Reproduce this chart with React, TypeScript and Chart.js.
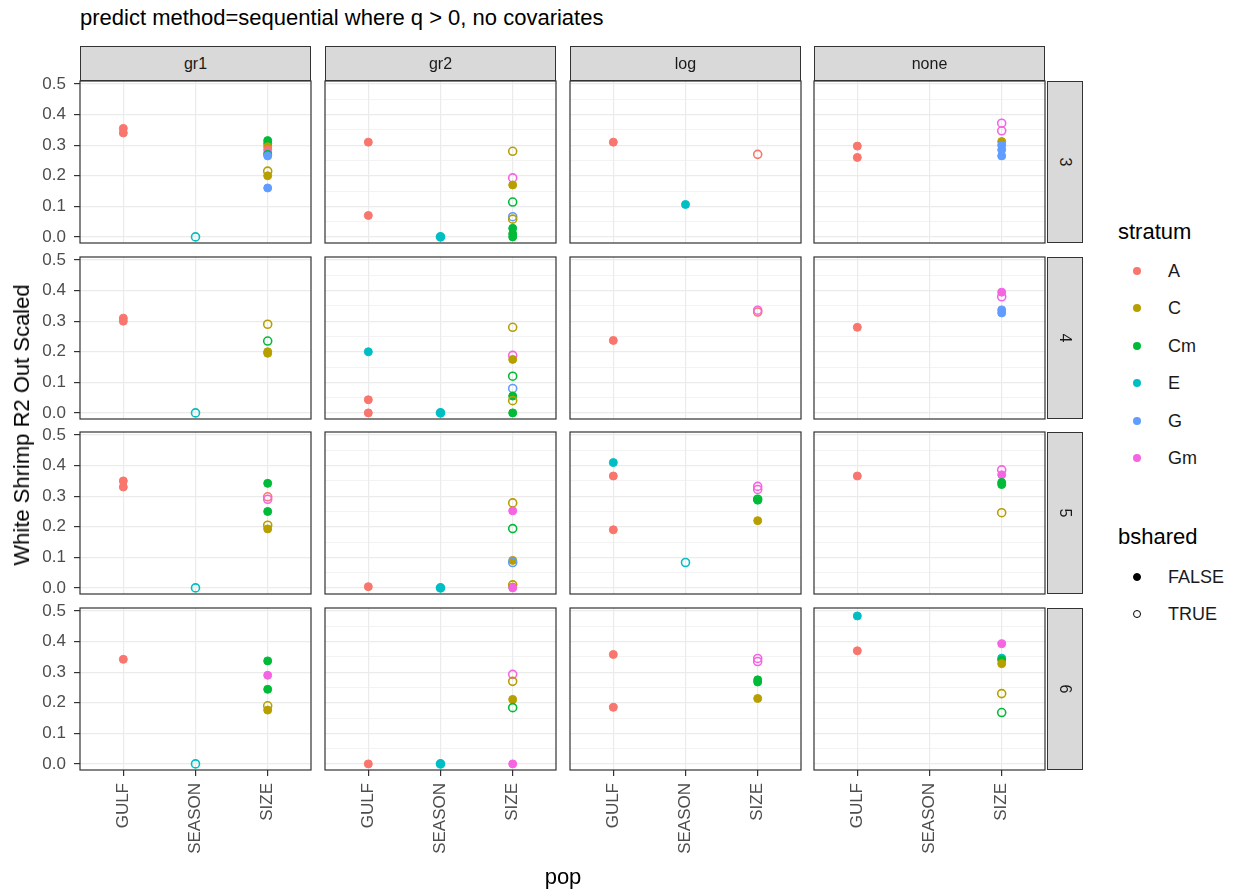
import React, { useEffect, useRef } from 'react';
import { Chart, registerables } from 'chart.js';

Chart.register(...registerables);

// ---------- data ----------
const methods = ['gr1', 'gr2', 'log', 'none'];
const rowLabels = ['3', '4', '5', '6'];
const pops = ['GULF', 'SEASON', 'SIZE'];
const strata = ['A', 'C', 'Cm', 'E', 'G', 'Gm'];
const strataColors = ['#F8766D', '#B79F00', '#00BA38', '#00BFC4', '#619CFF', '#F564E3'];
const sharedLabels = ['FALSE', 'TRUE'];
const yBreaks = [0, 0.1, 0.2, 0.3, 0.4, 0.5];
const yMinorBreaks = [0.05, 0.15, 0.25, 0.35, 0.45];
const yLimits = [-0.02, 0.51];
const xLimits = [0.4, 3.6];

const title = 'predict method=sequential where q > 0, no covariates';
const yTitle = 'White Shrimp R2 Out Scaled';
const xTitle = 'pop';

// [row, pop, stratum, bshared (1 = TRUE), value]
type Pt = [string, string, string, number, number];

const gr1Points: Pt[] = [
  ['3', 'GULF', 'A', 0, 0.355], ['3', 'GULF', 'A', 0, 0.34],
  ['3', 'SEASON', 'E', 1, 0.0],
  ['3', 'SIZE', 'Cm', 0, 0.315], ['3', 'SIZE', 'Cm', 0, 0.305], ['3', 'SIZE', 'C', 0, 0.295],
  ['3', 'SIZE', 'A', 0, 0.285], ['3', 'SIZE', 'Gm', 0, 0.275], ['3', 'SIZE', 'Cm', 0, 0.27],
  ['3', 'SIZE', 'G', 0, 0.265], ['3', 'SIZE', 'C', 1, 0.215], ['3', 'SIZE', 'C', 0, 0.2],
  ['3', 'SIZE', 'G', 0, 0.16],
  ['4', 'GULF', 'A', 0, 0.31], ['4', 'GULF', 'A', 0, 0.3],
  ['4', 'SEASON', 'E', 1, 0.0],
  ['4', 'SIZE', 'C', 1, 0.29], ['4', 'SIZE', 'Cm', 1, 0.235], ['4', 'SIZE', 'C', 0, 0.2],
  ['4', 'SIZE', 'C', 0, 0.195],
  ['5', 'GULF', 'A', 0, 0.35], ['5', 'GULF', 'A', 0, 0.33],
  ['5', 'SEASON', 'E', 1, 0.0],
  ['5', 'SIZE', 'Cm', 0, 0.342], ['5', 'SIZE', 'A', 1, 0.298], ['5', 'SIZE', 'Gm', 1, 0.29],
  ['5', 'SIZE', 'Cm', 0, 0.25], ['5', 'SIZE', 'C', 1, 0.205], ['5', 'SIZE', 'C', 0, 0.193],
  ['6', 'GULF', 'A', 0, 0.342],
  ['6', 'SEASON', 'E', 1, 0.0],
  ['6', 'SIZE', 'Cm', 0, 0.337], ['6', 'SIZE', 'Gm', 0, 0.29], ['6', 'SIZE', 'Cm', 0, 0.244],
  ['6', 'SIZE', 'C', 1, 0.19], ['6', 'SIZE', 'C', 0, 0.176],
];

const gr2Points: Pt[] = [
  ['3', 'GULF', 'A', 0, 0.31], ['3', 'GULF', 'A', 0, 0.07],
  ['3', 'SEASON', 'E', 0, 0.0], ['3', 'SEASON', 'E', 1, 0.0],
  ['3', 'SIZE', 'C', 1, 0.28], ['3', 'SIZE', 'Gm', 1, 0.193], ['3', 'SIZE', 'C', 0, 0.17],
  ['3', 'SIZE', 'Cm', 1, 0.114], ['3', 'SIZE', 'G', 1, 0.066], ['3', 'SIZE', 'C', 1, 0.058],
  ['3', 'SIZE', 'Cm', 0, 0.028], ['3', 'SIZE', 'Cm', 0, 0.01], ['3', 'SIZE', 'Cm', 0, 0.0],
  ['4', 'GULF', 'E', 0, 0.2], ['4', 'GULF', 'A', 0, 0.043], ['4', 'GULF', 'A', 0, 0.0],
  ['4', 'SEASON', 'E', 0, 0.0], ['4', 'SEASON', 'E', 1, 0.0],
  ['4', 'SIZE', 'C', 1, 0.28], ['4', 'SIZE', 'Gm', 1, 0.188], ['4', 'SIZE', 'C', 0, 0.175],
  ['4', 'SIZE', 'Cm', 1, 0.12], ['4', 'SIZE', 'G', 1, 0.08], ['4', 'SIZE', 'Cm', 0, 0.055],
  ['4', 'SIZE', 'C', 1, 0.04], ['4', 'SIZE', 'Cm', 0, 0.0],
  ['5', 'GULF', 'A', 0, 0.004],
  ['5', 'SEASON', 'E', 0, 0.0], ['5', 'SEASON', 'E', 1, 0.0],
  ['5', 'SIZE', 'C', 1, 0.278], ['5', 'SIZE', 'Gm', 0, 0.252], ['5', 'SIZE', 'Cm', 1, 0.194],
  ['5', 'SIZE', 'C', 0, 0.09], ['5', 'SIZE', 'G', 1, 0.083], ['5', 'SIZE', 'C', 1, 0.01],
  ['5', 'SIZE', 'C', 0, 0.003], ['5', 'SIZE', 'Gm', 0, 0.0],
  ['6', 'GULF', 'A', 0, 0.0],
  ['6', 'SEASON', 'E', 0, 0.0], ['6', 'SEASON', 'E', 1, 0.0],
  ['6', 'SIZE', 'Gm', 1, 0.293], ['6', 'SIZE', 'C', 1, 0.27], ['6', 'SIZE', 'C', 0, 0.211],
  ['6', 'SIZE', 'Cm', 1, 0.184], ['6', 'SIZE', 'Gm', 0, 0.0],
];

const logPoints: Pt[] = [
  ['3', 'GULF', 'A', 0, 0.31],
  ['3', 'SEASON', 'E', 0, 0.106],
  ['3', 'SIZE', 'A', 1, 0.27],
  ['4', 'GULF', 'A', 0, 0.237],
  ['4', 'SIZE', 'A', 1, 0.33], ['4', 'SIZE', 'Gm', 1, 0.336],
  ['5', 'GULF', 'E', 0, 0.41], ['5', 'GULF', 'A', 0, 0.366], ['5', 'GULF', 'A', 0, 0.19],
  ['5', 'SEASON', 'E', 1, 0.083],
  ['5', 'SIZE', 'Gm', 1, 0.332], ['5', 'SIZE', 'Gm', 1, 0.322], ['5', 'SIZE', 'Cm', 1, 0.29],
  ['5', 'SIZE', 'Cm', 0, 0.287], ['5', 'SIZE', 'C', 0, 0.22],
  ['6', 'GULF', 'A', 0, 0.358], ['6', 'GULF', 'A', 0, 0.185],
  ['6', 'SIZE', 'Gm', 1, 0.345], ['6', 'SIZE', 'Gm', 1, 0.335], ['6', 'SIZE', 'Cm', 0, 0.275],
  ['6', 'SIZE', 'Cm', 0, 0.268], ['6', 'SIZE', 'C', 0, 0.214],
];

const nonePoints: Pt[] = [
  ['3', 'GULF', 'A', 0, 0.297], ['3', 'GULF', 'A', 0, 0.26],
  ['3', 'SIZE', 'Gm', 1, 0.372], ['3', 'SIZE', 'Gm', 1, 0.347], ['3', 'SIZE', 'C', 0, 0.312],
  ['3', 'SIZE', 'G', 0, 0.3], ['3', 'SIZE', 'G', 0, 0.285], ['3', 'SIZE', 'G', 0, 0.265],
  ['4', 'GULF', 'A', 0, 0.28],
  ['4', 'SIZE', 'Gm', 0, 0.395], ['4', 'SIZE', 'Gm', 1, 0.38], ['4', 'SIZE', 'G', 0, 0.337],
  ['4', 'SIZE', 'G', 0, 0.327],
  ['5', 'GULF', 'A', 0, 0.366],
  ['5', 'SIZE', 'Gm', 1, 0.386], ['5', 'SIZE', 'Gm', 0, 0.37], ['5', 'SIZE', 'Cm', 0, 0.345],
  ['5', 'SIZE', 'Cm', 0, 0.338], ['5', 'SIZE', 'C', 1, 0.246],
  ['6', 'GULF', 'E', 0, 0.484], ['6', 'GULF', 'A', 0, 0.37],
  ['6', 'SIZE', 'Gm', 0, 0.393], ['6', 'SIZE', 'E', 0, 0.346], ['6', 'SIZE', 'Cm', 0, 0.34],
  ['6', 'SIZE', 'C', 0, 0.328], ['6', 'SIZE', 'C', 1, 0.23], ['6', 'SIZE', 'Cm', 1, 0.168],
];

const pointsByMethod = [gr1Points, gr2Points, logPoints, nonePoints];

// ---------- layout ----------
const FONT = '"Liberation Sans", Arial, Helvetica, sans-serif';
const PANEL_LEFT = [80, 325, 570, 814];
const PANEL_TOP = [81, 257, 432, 608];
const PW = 231;
const PH = 162;
const M = 26;
const AXW = 60;
const AXH = 92;
const STRIP_TOP = 46;
const STRIP_H = 35;
const RSTRIP_LEFT = 1047;
const RSTRIP_W = 36;

const isMajor = (v: number) => Math.abs(v * 10 - Math.round(v * 10)) < 1e-6;
const colorOf = (s: string) => strataColors[strata.indexOf(s)];

const borderPlugin = {
  id: 'panelBorder',
  afterDraw(chart: any) {
    const { ctx, chartArea } = chart;
    ctx.save();
    ctx.strokeStyle = '#333333';
    ctx.lineWidth = 1.2;
    ctx.strokeRect(chartArea.left, chartArea.top, chartArea.right - chartArea.left, chartArea.bottom - chartArea.top);
    ctx.restore();
  },
};

function Panel({ r, c }: { r: number; c: number }) {
  const ref = useRef<HTMLCanvasElement | null>(null);
  const leftExtra = c === 0 ? AXW : 0;
  const bottomExtra = r === 3 ? AXH : 0;
  const w = PW + 2 * M + leftExtra;
  const h = PH + 2 * M + bottomExtra;

  useEffect(() => {
    if (!ref.current) return;
    const pts = pointsByMethod[c].filter((p) => p[0] === rowLabels[r]);
    const chart = new Chart(ref.current, {
      type: 'scatter',
      data: {
        datasets: [
          {
            data: pts.map((p) => ({ x: pops.indexOf(p[1]) + 1, y: p[4] })),
            pointRadius: 4,
            pointBackgroundColor: pts.map((p) => (p[3] ? 'rgba(0,0,0,0)' : colorOf(p[2]))),
            pointBorderColor: pts.map((p) => colorOf(p[2])),
            pointBorderWidth: pts.map((p) => (p[3] ? 1.6 : 1)),
            showLine: false,
          },
        ],
      },
      options: {
        responsive: false,
        animation: false,
        events: [],
        layout: { padding: { left: M, right: M, top: M, bottom: M } },
        plugins: { legend: { display: false }, tooltip: { enabled: false } },
        scales: {
          x: {
            type: 'linear',
            min: xLimits[0],
            max: xLimits[1],
            afterBuildTicks: (s: any) => {
              s.ticks = pops.map((_, i) => ({ value: i + 1 }));
            },
            afterFit: (s: any) => {
              s.height = bottomExtra;
            },
            ticks: {
              display: r === 3,
              autoSkip: false,
              maxRotation: 90,
              minRotation: 90,
              padding: 7,
              color: '#4D4D4D',
              font: { family: FONT, size: 17 },
              callback: (v: any) => pops[Math.round(v) - 1] ?? '',
            },
            grid: {
              color: '#EBEBEB',
              lineWidth: 1.2,
              drawTicks: r === 3,
              tickLength: 6,
              tickColor: '#333333',
              tickWidth: 1.2,
            },
            border: { display: false },
          },
          y: {
            type: 'linear',
            min: yLimits[0],
            max: yLimits[1],
            afterBuildTicks: (s: any) => {
              s.ticks = [...yBreaks, ...yMinorBreaks].sort((a, b) => a - b).map((v) => ({ value: v }));
            },
            afterFit: (s: any) => {
              s.width = leftExtra;
            },
            ticks: {
              display: c === 0,
              padding: 8,
              color: '#4D4D4D',
              font: { family: FONT, size: 17 },
              callback: (v: any) => (isMajor(v) ? Number(v).toFixed(1) : ''),
            },
            grid: {
              color: '#EBEBEB',
              lineWidth: (ctx: any) => (ctx.tick && isMajor(ctx.tick.value) ? 1.2 : 0.6),
              drawTicks: c === 0,
              tickLength: 6,
              tickColor: (ctx: any) => (ctx.tick && isMajor(ctx.tick.value) ? '#333333' : 'rgba(0,0,0,0)'),
              tickWidth: 1.2,
            },
            border: { display: false },
          },
        },
      },
      plugins: [borderPlugin],
    } as any);
    return () => chart.destroy();
  }, [r, c]);

  return (
    <canvas
      ref={ref}
      width={w}
      height={h}
      style={{ position: 'absolute', left: PANEL_LEFT[c] - leftExtra - M, top: PANEL_TOP[r] - M }}
    />
  );
}

export default function App() {
  useEffect(() => {
    document.body.style.margin = '0';
    document.body.style.background = '#ffffff';
  }, []);

  const legendRowY = (i: number) => 271 + i * 37.4;
  const sharedRowY = [577, 614];

  return (
    <div style={{ position: 'relative', width: 1236, height: 892, background: '#fff', fontFamily: FONT, overflow: 'hidden' }}>
      {rowLabels.map((_, r) => methods.map((__, c) => <Panel key={`${r}-${c}`} r={r} c={c} />))}

      <div style={{ position: 'absolute', left: 80, top: 4, fontSize: 22, lineHeight: '28px', color: '#000', whiteSpace: 'nowrap' }}>
        {title}
      </div>

      {methods.map((m, c) => (
        <div
          key={m}
          style={{
            position: 'absolute', left: PANEL_LEFT[c], top: STRIP_TOP, width: PW, height: STRIP_H,
            background: '#D9D9D9', border: '1.2px solid #333333', boxSizing: 'border-box',
            display: 'flex', alignItems: 'center', justifyContent: 'center', fontSize: 16, color: '#1A1A1A',
          }}
        >
          {m}
        </div>
      ))}

      {rowLabels.map((lab, r) => (
        <div
          key={lab}
          style={{
            position: 'absolute', left: RSTRIP_LEFT, top: PANEL_TOP[r], width: RSTRIP_W, height: PH,
            background: '#D9D9D9', border: '1.2px solid #333333', boxSizing: 'border-box',
            display: 'flex', alignItems: 'center', justifyContent: 'center', fontSize: 16, color: '#1A1A1A',
          }}
        >
          <span style={{ display: 'inline-block', transform: 'rotate(90deg)' }}>{lab}</span>
        </div>
      ))}

      <div
        style={{
          position: 'absolute', left: 22, top: 425, transform: 'translate(-50%, -50%) rotate(-90deg)',
          fontSize: 22, color: '#000', whiteSpace: 'nowrap',
        }}
      >
        {yTitle}
      </div>
      <div style={{ position: 'absolute', left: 563, top: 877, transform: 'translate(-50%, -50%)', fontSize: 22, color: '#000' }}>
        {xTitle}
      </div>

      <div style={{ position: 'absolute', left: 1118, top: 232, transform: 'translateY(-50%)', fontSize: 22, color: '#000' }}>stratum</div>
      {strata.map((s, i) => (
        <React.Fragment key={s}>
          <div
            style={{
              position: 'absolute', left: 1137 - 4, top: legendRowY(i) - 4, width: 8, height: 8,
              borderRadius: '50%', background: strataColors[i],
            }}
          />
          <div style={{ position: 'absolute', left: 1168, top: legendRowY(i), transform: 'translateY(-50%)', fontSize: 18, color: '#1A1A1A' }}>
            {s}
          </div>
        </React.Fragment>
      ))}

      <div style={{ position: 'absolute', left: 1118, top: 537, transform: 'translateY(-50%)', fontSize: 22, color: '#000' }}>bshared</div>
      {sharedLabels.map((s, i) => (
        <React.Fragment key={s}>
          <div
            style={{
              position: 'absolute', left: 1137 - 4, top: sharedRowY[i] - 4, width: 8, height: 8,
              borderRadius: '50%', boxSizing: 'border-box',
              background: i === 0 ? '#000' : 'transparent', border: '1.5px solid #000',
            }}
          />
          <div style={{ position: 'absolute', left: 1168, top: sharedRowY[i], transform: 'translateY(-50%)', fontSize: 18, color: '#1A1A1A' }}>
            {s}
          </div>
        </React.Fragment>
      ))}
    </div>
  );
}
